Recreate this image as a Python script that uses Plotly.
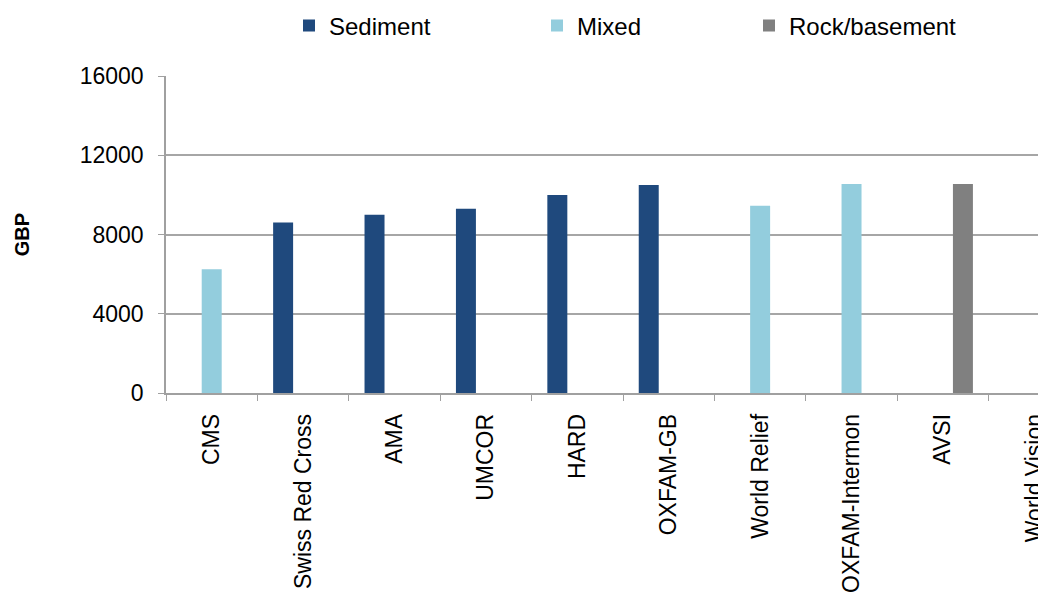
import plotly.graph_objects as go

categories = ["CMS", "Swiss Red Cross", "AMA", "UMCOR", "HARD", "OXFAM-GB",
              "World Relief", "OXFAM-Intermon", "AVSI", "World Vision"]
sediment = [None, 8600, 9000, 9300, 10000, 10500, None, None, None, None]
mixed = [6250, None, None, None, None, None, 9450, 10550, None, None]
rock = [None, None, None, None, None, None, None, None, 10550, None]
series_names = ["Sediment", "Mixed", "Rock/basement"]
y_ticks = [0, 4000, 8000, 12000, 16000]

FONT = "Liberation Sans, Arial, sans-serif"
colors = ["#1F497D", "#93CDDD", "#808080"]
W, H = 1038, 599
ml, mr, mt, mb = 166, 0, 76, 206
pw = W - ml - mr

fig = go.Figure()
for i, (name, vals) in enumerate(zip(series_names, [sediment, mixed, rock])):
    fig.add_trace(go.Bar(
        x=categories, y=vals, name=name,
        marker=dict(color=colors[i], line=dict(width=0)),
        legend="legend" if i == 0 else f"legend{i+1}",
    ))

# legend text-left pixel positions
leg_px = [329, 577, 789]
def legx(px):
    return (px - 40 - ml) / pw

legend_common = dict(orientation="h", yanchor="middle", y=(H - mb - 26) / (H - mt - mb),
                     xanchor="left", font=dict(family=FONT, size=24, color="#000"),
                     bgcolor="rgba(0,0,0,0)", itemwidth=30, borderwidth=0)

fig.update_layout(
    width=W, height=H,
    margin=dict(l=ml, r=mr, t=mt, b=mb, pad=0, autoexpand=False),
    paper_bgcolor="white", plot_bgcolor="white",
    barmode="group", bargap=0.344, bargroupgap=0,
    showlegend=True,
    legend=dict(legend_common, x=legx(leg_px[0])),
    legend2=dict(legend_common, x=legx(leg_px[1])),
    legend3=dict(legend_common, x=legx(leg_px[2])),
    font=dict(family=FONT, size=23, color="#000"),
)
fig.update_xaxes(
    range=[-0.5, 9.04], showline=True, linecolor="#A0A0A0", linewidth=1.5,
    ticks="outside", ticklen=6, tickcolor="#A0A0A0", tickwidth=1,
    tickson="boundaries", tickangle=-90, showgrid=False, automargin=False,
    tickfont=dict(family=FONT, size=23, color="#000"), ticklabelstandoff=10,
)
fig.update_yaxes(
    range=[0, 16000], tickvals=y_ticks, ticktext=[str(v) for v in y_ticks],
    showline=True, linecolor="#A0A0A0", linewidth=1.5, automargin=False,
    ticks="outside", ticklen=6, tickcolor="#A0A0A0",
    showgrid=True, gridcolor="#A6A6A6", gridwidth=1.5, zeroline=False,
    tickfont=dict(family=FONT, size=23, color="#000"), ticklabelstandoff=10,
    title=dict(text="<b>GBP</b>", font=dict(family=FONT, size=20, color="#000"), standoff=45),
)
fig.write_html("out.html")
